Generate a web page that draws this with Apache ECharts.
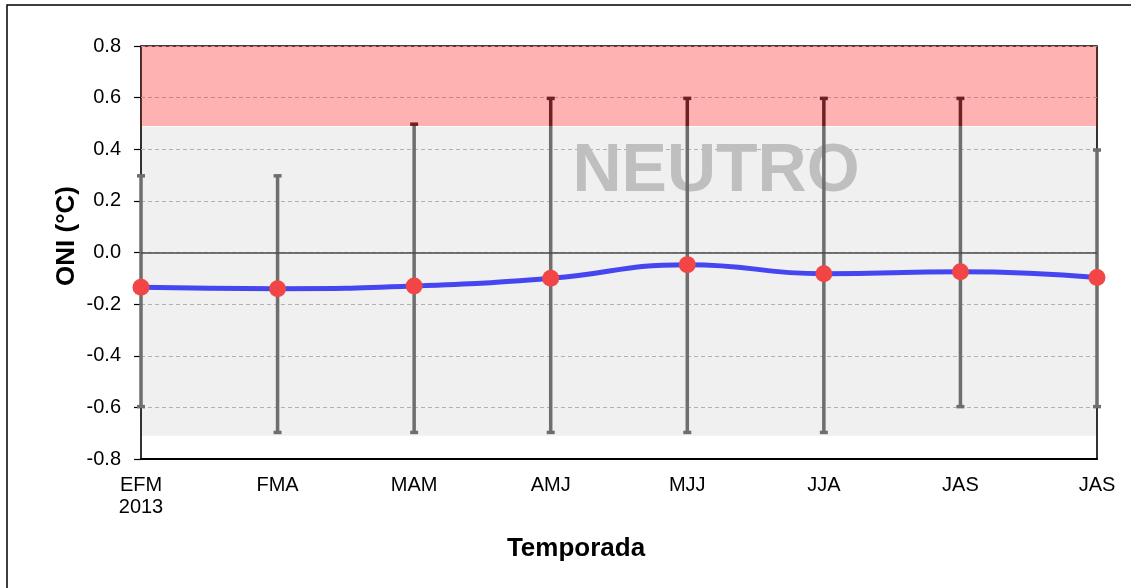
<!DOCTYPE html>
<html>
<head>
<meta charset="utf-8">
<script src="https://cdn.jsdelivr.net/npm/echarts@6/dist/echarts.min.js"></script>
<style>
  html, body { margin: 0; padding: 0; background: #fff; }
  #chart { width: 1131px; height: 588px; }
</style>
</head>
<body>
<div id="chart"></div>
<script>
// Seasons (three-month running periods) on the category axis
const seasons = ['EFM\n2013', 'FMA', 'MAM', 'AMJ', 'MJJ', 'JJA', 'JAS', 'JAS'];
// ONI value per season (°C)
const oniValues = [-0.135, -0.14, -0.13, -0.10, -0.047, -0.082, -0.075, -0.097];
// Spread of each season: upper and lower ends (°C)
const rangeUpper = [0.3, 0.3, 0.5, 0.6, 0.6, 0.6, 0.6, 0.4];
const rangeLower = [-0.6, -0.7, -0.7, -0.7, -0.7, -0.7, -0.6, -0.6];
// Shaded bands: neutral range and warm range (°C)
const neutralBand = [-0.71, 0.487];
const warmBand = [0.49, 0.8];
// Y axis ticks
const yMin = -0.8, yMax = 0.8, yStep = 0.2;

const FONT = "'Liberation Sans', Arial, sans-serif";
const BAR_GRAY = '#6e6e6e';
const BAR_RED = '#6e2024';

const chart = echarts.init(document.getElementById('chart'), null, { renderer: 'canvas' });

const option = {
  animation: false,
  backgroundColor: '#ffffff',
  grid: {
    left: 141, right: 34, top: 46, bottom: 129,
    show: true, borderColor: '#000', borderWidth: 1.6, backgroundColor: 'transparent'
  },
  xAxis: {
    type: 'category',
    data: seasons,
    boundaryGap: false,
    axisLine: { show: true, onZero: false, lineStyle: { color: '#000', width: 2 } },
    axisTick: { show: false },
    axisLabel: {
      color: '#000', fontFamily: FONT, fontSize: 20, lineHeight: 22, margin: 15,
      interval: 0
    },
    splitLine: { show: false }
  },
  yAxis: {
    type: 'value',
    min: yMin, max: yMax, interval: yStep,
    axisLine: { show: false },
    axisTick: { show: true, length: 7, inside: false, lineStyle: { color: '#000', width: 1.2 } },
    axisLabel: {
      color: '#000', fontFamily: FONT, fontSize: 20, margin: 20,
      formatter: v => v.toFixed(1)
    },
    splitLine: { show: true, lineStyle: { color: '#bdbdbd', type: [4, 3], width: 1 } }
  },
  graphic: [
    {
      type: 'rect', z: 0, silent: true,
      shape: { x: 7, y: 5, width: 1300, height: 800 },
      style: { fill: 'none', stroke: '#000', lineWidth: 1.5 }
    },
    {
      type: 'text', z: 2, silent: true,
      x: 716, y: 172,
      style: {
        text: 'NEUTRO', fill: '#bfbfbf', font: 'bold 68px ' + FONT,
        align: 'center', verticalAlign: 'middle'
      }
    },
    {
      type: 'text', silent: true,
      x: 67, y: 236, rotation: Math.PI / 2,
      style: {
        text: 'ONI (°C)', fill: '#000', font: 'bold 26px ' + FONT,
        align: 'center', verticalAlign: 'middle'
      }
    },
    {
      type: 'text', silent: true,
      x: 576, y: 549,
      style: {
        text: 'Temporada', fill: '#000', font: 'bold 26px ' + FONT,
        align: 'center', verticalAlign: 'middle'
      }
    }
  ],
  series: [
    {
      // neutral (gray) and warm (red) shaded bands across the plot
      type: 'custom',
      z: 1,
      silent: true,
      data: [
        [neutralBand[0], neutralBand[1], 0],
        [warmBand[0], warmBand[1], 1]
      ],
      renderItem: (params, api) => {
        const cs = params.coordSys;
        const yLo = api.coord([0, api.value(0)])[1];
        const yHi = api.coord([0, api.value(1)])[1];
        const warm = api.value(2) === 1;
        return {
          type: 'rect',
          shape: { x: cs.x, y: yHi, width: cs.width, height: yLo - yHi },
          style: { fill: warm ? 'rgba(255,0,0,0.3)' : 'rgba(0,0,0,0.059)' }
        };
      },
      markLine: {
        silent: true, symbol: 'none', label: { show: false },
        lineStyle: { color: '#4a4a4a', width: 1.5, type: 'solid' },
        data: [{ yAxis: 0 }]
      }
    },
    {
      // vertical range bars with caps
      type: 'custom',
      z: 3,
      silent: true,
      data: seasons.map((s, i) => [i, rangeLower[i], rangeUpper[i]]),
      renderItem: (params, api) => {
        const i = api.value(0);
        const lo = api.value(1), hi = api.value(2);
        const top = api.coord([i, hi]);
        const bot = api.coord([i, lo]);
        const split = api.coord([i, warmBand[0]]);
        const x = top[0];
        const bw = 3.5, cw = 8, ch = 3.5;
        const children = [];
        if (hi > warmBand[0]) {
          children.push({ type: 'rect', shape: { x: x - bw / 2, y: top[1], width: bw, height: split[1] - top[1] }, style: { fill: BAR_RED } });
          children.push({ type: 'rect', shape: { x: x - bw / 2, y: split[1], width: bw, height: bot[1] - split[1] }, style: { fill: BAR_GRAY } });
        } else {
          children.push({ type: 'rect', shape: { x: x - bw / 2, y: top[1], width: bw, height: bot[1] - top[1] }, style: { fill: BAR_GRAY } });
        }
        children.push({ type: 'rect', shape: { x: x - cw / 2, y: top[1] - 1, width: cw, height: ch }, style: { fill: hi > warmBand[0] ? BAR_RED : BAR_GRAY } });
        children.push({ type: 'rect', shape: { x: x - cw / 2, y: bot[1] - ch + 1, width: cw, height: ch }, style: { fill: BAR_GRAY } });
        return { type: 'group', children };
      }
    },
    {
      type: 'line',
      z: 4,
      data: oniValues,
      smooth: 0.5,
      symbol: 'circle',
      symbolSize: 17,
      lineStyle: { color: '#4646f0', width: 5 },
      itemStyle: { color: '#f24646' },
      clip: false
    }
  ]
};

chart.setOption(option);
</script>
</body>
</html>
